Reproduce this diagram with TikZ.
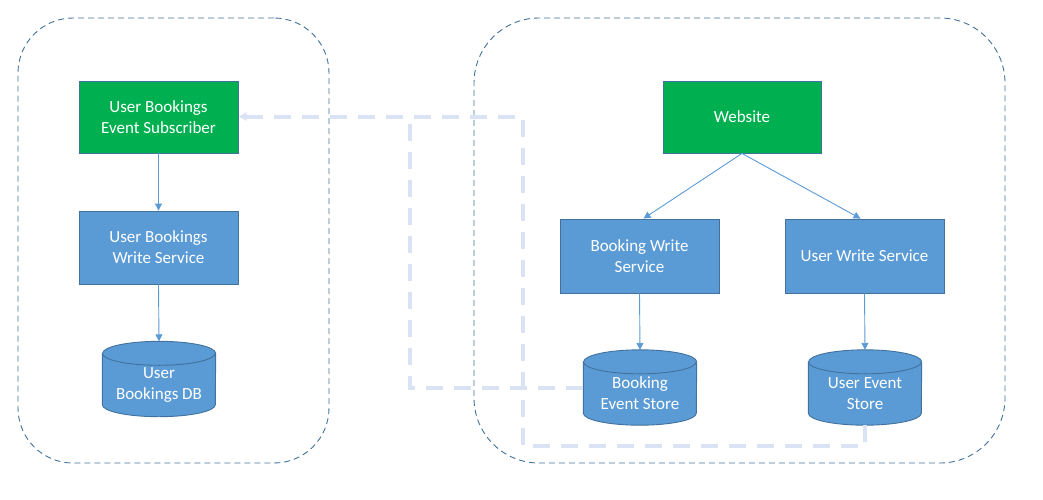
\documentclass[tikz,border=0pt]{standalone}
\usepackage{fontspec}
\setmainfont{Carlito}
\usetikzlibrary{arrows.meta}
\definecolor{boxblue}{HTML}{5B9BD5}
\definecolor{boxgreen}{HTML}{00B050}
\definecolor{edgeblue}{HTML}{41719C}
\definecolor{evcol}{HTML}{DAE3F3}
\definecolor{contcol}{HTML}{41719C}
\tikzset{
  container/.style={draw=contcol, line width=0.9pt, dash pattern=on 6pt off 4pt, inner sep=0pt},
  svcbox/.style={rectangle, draw=edgeblue, line width=0.9pt, fill=boxblue, text=white, align=center, inner sep=0pt,
    font=\fontsize{17}{21}\selectfont},
  greenbox/.style={svcbox, fill=boxgreen},
  storebox/.style={rectangle, inner sep=0pt, minimum width=113pt, minimum height=75pt},
  storetext/.style={text=white, align=center, font=\fontsize{17}{21}\selectfont},
  cylbody/.style={draw=edgeblue, line width=0.9pt, fill=boxblue},
  cylrim/.style={draw=edgeblue, line width=0.9pt},
  flow/.style={draw=boxblue, line width=0.9pt, -{Triangle[length=7pt,width=7pt]}},
  evline/.style={draw=evcol, line width=4pt, dash pattern=on 17pt off 11pt},
  evarrow/.style={evline, -{Latex[length=8pt,width=10pt]}}
}
\newcommand{\drawcyl}[1]{%
  \path[cylbody] ([yshift=-12pt]#1.north west) -- ([yshift=12pt]#1.south west)
    arc[start angle=180, end angle=360, x radius=56.5pt, y radius=12pt]
    -- ([yshift=-12pt]#1.north east)
    arc[start angle=0, end angle=180, x radius=56.5pt, y radius=12pt] -- cycle;
  \path[cylrim] ([yshift=-12pt]#1.north west)
    arc[start angle=180, end angle=360, x radius=56.5pt, y radius=12pt];
}
\begin{document}
\begin{tikzpicture}[x=1pt,y=-1pt]
\useasboundingbox (0,0) rectangle (1043,499);
% containers
\node[container, minimum width=311pt, minimum height=445pt, rounded corners=55pt] (leftc) at (173.5,240.5) {};
\node[container, minimum width=531pt, minimum height=445pt, rounded corners=65pt] (rightc) at (739.5,240.5) {};
% left side
\node[greenbox, minimum width=159pt, minimum height=72pt] (sub) at (158.5,117) {User Bookings\\Event Subscriber};
\node[svcbox, minimum width=159pt, minimum height=73pt] (ubw) at (158.5,247.5) {User Bookings\\Write Service};
\node[storebox] (udb) at (159,379) {};
\drawcyl{udb}
\node[storetext] (udbt) at (159,385) {User\\Bookings DB};
% right side
\node[greenbox, minimum width=158pt, minimum height=72pt] (web) at (742,117) {Website};
\node[svcbox, minimum width=159pt, minimum height=74pt] (bws) at (639.5,256) {Booking Write\\Service};
\node[svcbox, minimum width=159pt, minimum height=74pt] (uws) at (864.5,256) {User Write Service};
\node[storebox] (bes) at (640,387.5) {};
\drawcyl{bes}
\node[storetext] (best) at (640,393.5) {Booking\\Event Store};
\node[storebox] (ues) at (865,387.5) {};
\drawcyl{ues}
\node[storetext] (uest) at (865,393.5) {User Event\\Store};
% flows
\draw[flow] (sub.south) -- (ubw.north);
\draw[flow] (ubw.south) -- (udb.north);
\draw[flow] (web.south) -- ([xshift=4pt]bws.north);
\draw[flow] (web.south) -- ([xshift=-4pt]uws.north);
\draw[flow] (bws.south) -- (bes.north);
\draw[flow] (uws.south) -- (ues.north);
% event lines
\coordinate (j1) at (410,116.5);
\coordinate (b1) at (523,446);
\coordinate (t1) at (523,116.5);
\draw[evline] (bes.west) -| (j1);
\draw[evarrow] (ues.south) |- (b1) -- (t1) -- (sub.east |- t1);
\end{tikzpicture}
\end{document}
